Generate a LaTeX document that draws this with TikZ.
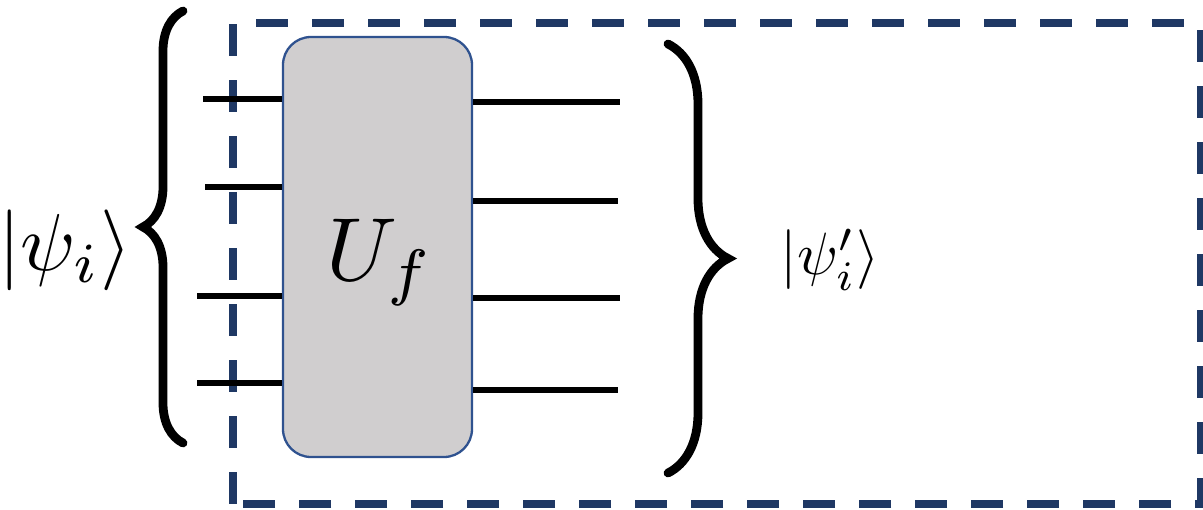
\documentclass[tikz,border=0pt]{standalone}
\usepackage{amsmath,amssymb}
\usepackage{tikz}
\usetikzlibrary{positioning,calc,decorations.pathreplacing}
\usepackage{xcolor}
\definecolor{framenavy}{RGB}{31,56,100}
\definecolor{gategray}{RGB}{208,206,207}
\definecolor{gateblue}{RGB}{47,82,143}

\begin{document}
\begin{tikzpicture}[
    gate/.style={rectangle, draw=gateblue, line width=1.3pt, fill=gategray, rounded corners=0.56cm, minimum width=3.78cm, minimum height=8.4cm, inner sep=0pt},
    wire/.style={line width=3.4pt},
    frame/.style={draw=framenavy, line width=4.5pt, dash pattern=on 6.4mm off 4.8mm},
    curly/.style={decorate, line width=5pt, line cap=round}
]
    \useasboundingbox (0,0) rectangle (24.06,-10.2);

    % Dashed frame
    \draw[frame] (4.66,-10.08) -- (4.66,-0.46) -- (24.02,-0.46) -- (24.02,-10.08) -- cycle;

    % Gate
    \node[gate] (gate) at (7.55,-4.94) {};
    \node[scale=5.1] (uf) at (7.6,-5.25) {$U_f$};

    % Input wires
    \coordinate (in1) at (4.06,-1.98);
    \coordinate (in2) at (4.10,-3.74);
    \coordinate (in3) at (3.94,-5.92);
    \coordinate (in4) at (3.94,-7.66);
    \foreach \w in {in1,in2,in3,in4}
        \draw[wire] (\w) -- (\w -| gate.west);

    % Output wires
    \coordinate (out1) at (12.40,-2.04);
    \coordinate (out2) at (12.36,-4.02);
    \coordinate (out3) at (12.40,-5.96);
    \coordinate (out4) at (12.36,-7.80);
    \foreach \w in {out1,out2,out3,out4}
        \draw[wire] (\w -| gate.east) -- (\w);

    % Braces
    \coordinate (lbot) at (3.66,-8.86);
    \coordinate (ltop) at (3.66,-0.22);
    \coordinate (rtop) at (13.36,-0.88);
    \coordinate (rbot) at (13.36,-9.46);
    \draw[curly, decoration={brace, amplitude=0.8cm}] (lbot) -- (ltop);
    \draw[curly, decoration={brace, amplitude=1.2cm}] (rtop) -- (rbot);

    % States
    \node[scale=4.6] (psiin) at (1.30,-5.0) {$|\psi_i\rangle$};
    \node[scale=3.4] (psiout) at (16.6,-5.2) {$|\psi_i'\rangle$};
\end{tikzpicture}
\end{document}
